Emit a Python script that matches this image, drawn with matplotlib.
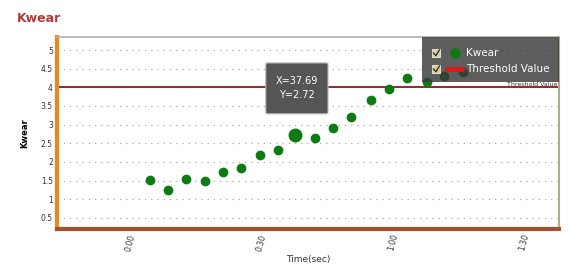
import matplotlib.pyplot as plt
from matplotlib.patches import FancyBboxPatch, Rectangle

# data
times = [4.6, 8.7, 12.8, 17.1, 21.2, 25.3, 29.7, 33.8, 37.69, 42.2, 46.3,
         50.6, 55.0, 59.1, 63.2, 67.8, 71.7, 76.0]
kwear = [1.51, 1.24, 1.53, 1.48, 1.72, 1.83, 2.18, 2.31, 2.72, 2.63, 2.90,
         3.20, 3.66, 3.95, 4.25, 4.14, 4.30, 4.41]
highlight_idx = 8
threshold = 4.0
x_ticks = [0, 30, 60, 90]
x_tick_labels = ['0:00', '0:30', '1:00', '1:30']
y_ticks = [0.5, 1, 1.5, 2, 2.5, 3, 3.5, 4, 4.5, 5]
y_tick_labels = ['0.5', '1', '1.5', '2', '2.5', '3', '3.5', '4', '4.5', '5']
legend_labels = ['Kwear', 'Threshold Value']

fig = plt.figure(figsize=(5.72, 2.74), dpi=100)
ax = fig.add_axes([0.0997, 0.164, 0.8773, 0.701])

green = '#0d7a12'
ax.plot(times, kwear, 'o', color=green, markersize=6, zorder=3)
ax.plot(times[highlight_idx], kwear[highlight_idx], 'o', color=green, markersize=9, zorder=4)
ax.axhline(threshold, color='#8b1a1a', linewidth=1.3, zorder=2)

ax.set_xlim(-16.7, 98)
ax.set_ylim(0.2, 5.35)
ax.set_xticks(x_ticks)
ax.set_xticklabels(x_tick_labels, rotation=75, fontsize=5.5, color='#333333')
ax.set_yticks(y_ticks)
ax.set_yticklabels(y_tick_labels, fontsize=5.5, color='#333333')
ax.tick_params(length=0, pad=3)
ax.grid(axis='y', linestyle=(0, (1, 4)), color='#aaaaaa', linewidth=0.9)

ax.spines['left'].set_color('#e8891c')
ax.spines['left'].set_linewidth(3)
ax.spines['bottom'].set_color('#a0522d')
ax.spines['bottom'].set_linewidth(3)
ax.spines['top'].set_color('#b0b0a8')
ax.spines['top'].set_linewidth(1.2)
ax.spines['right'].set_color('#a8b090')
ax.spines['right'].set_linewidth(1.5)

ax.set_ylabel('Kwear', fontsize=6, fontweight='bold', labelpad=8)
ax.set_xlabel('Time(sec)', fontsize=6.5, color='#333333', labelpad=2)

fig.text(0.03, 0.934, 'Kwear', fontsize=9, fontweight='bold', color='#b03a3a', va='center')

# small label of threshold line
ax.text(0.998, 0.74, 'Threshold Value', transform=ax.transAxes, fontsize=4.5,
        color='#333333', ha='right', va='bottom', zorder=1)

# legend box (drawn by hand, like the tool's overlay)
ax.add_patch(Rectangle((0.727, 0.766), 0.273, 0.234, transform=ax.transAxes,
                       facecolor='#3a3a3a', edgecolor='none', alpha=0.82, zorder=5,
                       clip_on=False))
rows_y = [0.917, 0.833]
for yy, lab in zip(rows_y, legend_labels):
    ax.add_patch(Rectangle((0.747, yy - 0.022), 0.017, 0.044, transform=ax.transAxes,
                           facecolor='#d8cf98', edgecolor='#f0f0e0', linewidth=0.6,
                           zorder=6))
    ax.plot([0.750, 0.755, 0.762], [yy, yy - 0.014, yy + 0.016], transform=ax.transAxes,
            color='#333333', linewidth=1.0, zorder=7)
    ax.text(0.815, yy, lab, transform=ax.transAxes, fontsize=7.5, color='white',
            ha='left', va='center', zorder=7)
ax.plot([0.793], [rows_y[0]], 'o', transform=ax.transAxes, color=green,
        markersize=6.5, zorder=7)
ax.plot([0.777, 0.808], [rows_y[1], rows_y[1]], transform=ax.transAxes,
        color='#e01818', linewidth=3.5, solid_capstyle='round', zorder=7)

# tooltip
tip = FancyBboxPatch((0.416, 0.6), 0.124, 0.265, boxstyle='round,pad=0.0,rounding_size=0.005',
                     transform=ax.transAxes, facecolor='#555555', edgecolor='#bbbbbb',
                     linewidth=0.8, zorder=6)
ax.add_patch(tip)
ax.text(0.478, 0.732, 'X=37.69\nY=2.72', transform=ax.transAxes, fontsize=7,
        color='white', ha='center', va='center', linespacing=1.5, zorder=7)

fig.savefig('out.png', dpi=100, facecolor='white')
